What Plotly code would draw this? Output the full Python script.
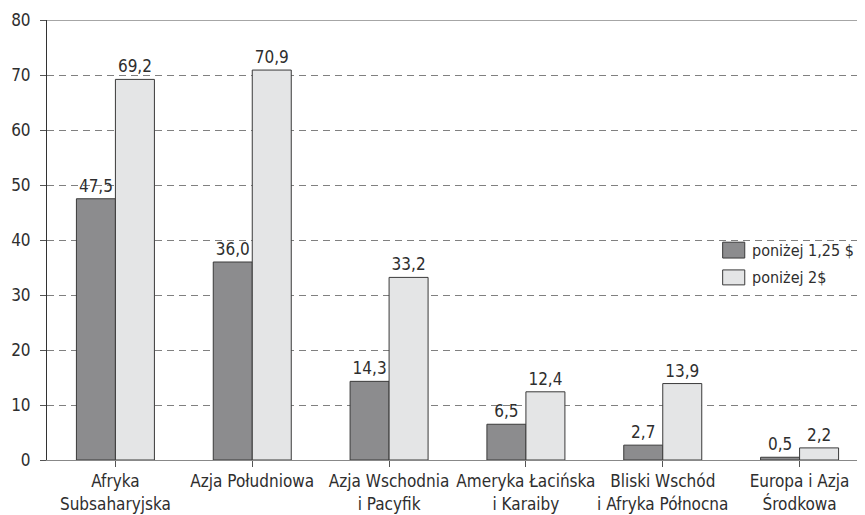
import plotly.graph_objects as go

categories = ["Afryka<br>Subsaharyjska", "Azja Południowa", "Azja Wschodnia<br>i Pacyfik",
              "Ameryka Łacińska<br>i Karaiby", "Bliski Wschód<br>i Afryka Północna", "Europa i Azja<br>Środkowa"]
below_125 = [47.5, 36.0, 14.3, 6.5, 2.7, 0.5]
below_2 = [69.2, 70.9, 33.2, 12.4, 13.9, 2.2]
series_names = ["poniżej 1,25 $", "poniżej 2$"]
series_colors = ["#8c8c8e", "#e4e5e6"]
y_ticks = [0, 10, 20, 30, 40, 50, 60, 70, 80]

FONT = "DejaVu Sans Condensed, sans-serif"
TXT = "#2e2e2e"
FS = 17

def fmt(v):
    return f"{v:.1f}".replace(".", ",")

fig = go.Figure()
for vals, name, col in [(below_125, series_names[0], series_colors[0]),
                        (below_2, series_names[1], series_colors[1])]:
    fig.add_trace(go.Bar(
        x=list(range(len(categories))), y=vals, name=name,
        marker=dict(color=col, line=dict(color="#3a3a3a", width=1)),
        text=[fmt(v) for v in vals], textposition="outside",
        textfont=dict(size=FS, color=TXT, family=FONT), cliponaxis=False,
        showlegend=False,
    ))

fig.update_layout(
    width=857, height=507,
    margin=dict(l=39, r=0, t=12, b=55, autoexpand=False),
    paper_bgcolor="white", plot_bgcolor="white",
    barmode="group", bargap=0.43, bargroupgap=0,
    font=dict(family=FONT, size=FS, color=TXT),
    showlegend=False,
)
fig.update_xaxes(
    range=[-0.5, 5.478],
    tickmode="array", tickvals=list(range(len(categories))), ticktext=categories,
    tickson="boundaries", ticks="outside", ticklen=6, tickcolor="#555555",
    tickangle=0, automargin=False,
    showline=True, linecolor="#888888", linewidth=1,
    showgrid=False, zeroline=False,
    tickfont=dict(size=FS, color=TXT, family=FONT),
    ticklabelstandoff=0,
)
fig.update_yaxes(
    range=[0, 80], tickvals=y_ticks, automargin=False,
    ticks="outside", ticklen=6, tickcolor="#555555",
    showline=True, linecolor="#333333", linewidth=1,
    showgrid=True, gridcolor="#808080", griddash="7px,5px", gridwidth=1,
    zeroline=False,
    tickfont=dict(size=FS, color=TXT, family=FONT),
    ticklabelstandoff=6,
)
fig.add_shape(type="line", xref="paper", yref="y", x0=0, x1=1, y0=80, y1=80,
              line=dict(color="#888888", width=1.5), layer="above")

# custom legend (boxes + real text)
legend_rows = [(0.459, 0.495), (0.398, 0.432)]
for (y0, y1), name, col in zip(legend_rows, series_names, series_colors):
    fig.add_shape(type="rect", xref="paper", yref="paper", x0=0.826, x1=0.853,
                  y0=y0, y1=y1, fillcolor=col, line=dict(color="#3a3a3a", width=1))
    fig.add_annotation(xref="paper", yref="paper", x=0.860, y=(y0 + y1) / 2,
                       text=name, showarrow=False, xanchor="left", yanchor="middle",
                       font=dict(size=16, color=TXT, family=FONT))

fig.write_html("out.html")
